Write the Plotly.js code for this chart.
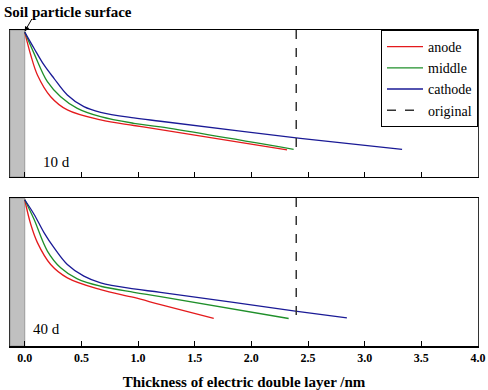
<!DOCTYPE html>
<html><head><meta charset="utf-8">
<script src="https://cdn.plot.ly/plotly-3.0.1.min.js"></script>
<style>html,body{margin:0;padding:0;background:#fff}#chart{width:488px;height:390px}</style>
</head><body><div id="chart"></div>
<script>
// Panel 1: 10 d
const x10Anode   = [0, 0.053, 0.112, 0.229, 0.376, 0.670, 0.963, 1.198, 2.315];
const y10Anode   = [98.6, 83.0, 69.4, 54.6, 45.6, 38.8, 35.0, 32.2, 18.4];
const x10Middle  = [0, 0.082, 0.200, 0.317, 0.464, 0.670, 0.963, 1.198, 2.373];
const y10Middle  = [98.6, 84.1, 64.8, 54.6, 46.7, 41.0, 36.5, 34.0, 18.8];
const x10Cathode = [0, 0.082, 0.170, 0.258, 0.376, 0.522, 0.670, 0.963, 1.198, 2.432, 3.330];
const y10Cathode = [98.6, 87.6, 76.2, 67.1, 55.8, 47.8, 44.0, 40.2, 37.9, 26.3, 18.7];
// Panel 2: 40 d
const x40Anode   = [0, 0.053, 0.112, 0.229, 0.376, 0.670, 0.963, 1.198, 1.668];
const y40Anode   = [98.9, 82.3, 69.9, 55.1, 46.1, 38.1, 32.8, 28.0, 18.6];
const x40Middle  = [0, 0.082, 0.200, 0.317, 0.464, 0.670, 0.963, 1.198, 2.329];
const y40Middle  = [98.9, 85.7, 64.2, 52.9, 45.4, 40.4, 36.3, 33.4, 18.6];
const x40Cathode = [0, 0.082, 0.170, 0.258, 0.376, 0.522, 0.670, 0.963, 1.198, 2.388, 2.843];
const y40Cathode = [98.9, 89.1, 76.7, 66.5, 55.1, 47.2, 42.7, 38.6, 36.3, 23.6, 19.0];
// Original double layer thickness
const xOriginal = [2.396, 2.396];
const y10Original = [100, 18.2];
const y40Original = [100, 19.2];
const seriesNames = ['anode', 'middle', 'cathode', 'original'];
const tickVals = [0, 0.5, 1, 1.5, 2, 2.5, 3, 3.5, 4];
const tickText = ['0.0', '0.5', '1.0', '1.5', '2.0', '2.5', '3.0', '3.5', '4.0'];
const panelLabels = ['10 d', '40 d'];

const colors = ['#e41a1c', '#1f8f2a', '#1a1a96', '#333333'];
const serif = 'Liberation Serif';

function line(x, y, i, xa, ya, show) {
  return {x: x, y: y, type: 'scatter', mode: 'lines', name: seriesNames[i],
    xaxis: xa, yaxis: ya, showlegend: show,
    line: {color: colors[i], width: i === 3 ? 1.5 : 1.3, dash: i === 3 ? 'dash' : 'solid',
      shape: i === 3 ? 'linear' : 'spline', smoothing: 1}};
}

const data = [
  line(x10Anode, y10Anode, 0, 'x2', 'y2', true),
  line(x10Middle, y10Middle, 1, 'x2', 'y2', true),
  line(x10Cathode, y10Cathode, 2, 'x2', 'y2', true),
  line(xOriginal, y10Original, 3, 'x2', 'y2', true),
  line(x40Anode, y40Anode, 0, 'x', 'y', false),
  line(x40Middle, y40Middle, 1, 'x', 'y', false),
  line(x40Cathode, y40Cathode, 2, 'x', 'y', false),
  line(xOriginal, y40Original, 3, 'x', 'y', false)
];

const xCommon = {range: [-0.13, 4.0], tickvals: tickVals, ticktext: tickText,
  ticks: 'inside', ticklen: 5, tickwidth: 1, tickcolor: '#000',
  showline: true, linecolor: '#000', linewidth: 1.5, mirror: true,
  showgrid: false, zeroline: false};
const yCommon = {range: [0, 100], showticklabels: false, ticks: '',
  showline: true, linecolor: '#333', linewidth: 1.2, mirror: true,
  showgrid: false, zeroline: false};

const layout = {
  width: 488, height: 390,
  margin: {l: 10, r: 10, t: 30, b: 44.3},
  paper_bgcolor: '#fff', plot_bgcolor: '#fff',
  font: {family: serif, color: '#000'},
  xaxis: Object.assign({}, xCommon, {anchor: 'y',
    tickfont: {family: serif, size: 12, weight: 'bold'},
    title: {text: '<b>Thickness of electric double layer /nm</b>', font: {family: serif, size: 15}, standoff: 12}}),
  xaxis2: Object.assign({}, xCommon, {anchor: 'y2', matches: 'x', showticklabels: false}),
  yaxis: Object.assign({}, yCommon, {domain: [0, 0.468], anchor: 'x'}),
  yaxis2: Object.assign({}, yCommon, {domain: [0.535, 1], anchor: 'x2'}),
  showlegend: true,
  legend: {x: 1, xanchor: 'right', y: 1, yanchor: 'top', bgcolor: '#fff',
    bordercolor: '#000', borderwidth: 1, font: {family: serif, size: 14},
    tracegroupgap: 0, itemwidth: 36},
  shapes: [
    {type: 'rect', xref: 'x', yref: 'y domain', x0: -0.13, x1: 0, y0: 0, y1: 1,
      fillcolor: '#c0c0c0', line: {color: '#9a9a9a', width: 1}, layer: 'below'},
    {type: 'rect', xref: 'x2', yref: 'y2 domain', x0: -0.13, x1: 0, y0: 0, y1: 1,
      fillcolor: '#c0c0c0', line: {color: '#9a9a9a', width: 1}, layer: 'below'}
  ],
  annotations: [
    {xref: 'paper', yref: 'paper', x: -0.018, y: 1.057, xanchor: 'left', yanchor: 'middle',
      text: '<b>Soil particle surface</b>', showarrow: false, font: {family: serif, size: 15}},
    {xref: 'x2', yref: 'y2', x: 0, y: 99, text: '', showarrow: true,
      ax: 8, ay: -14, arrowhead: 2, arrowsize: 1, arrowwidth: 1, arrowcolor: '#000'},
    {xref: 'x2', yref: 'y2', x: 0.14, y: 10, xanchor: 'left', yanchor: 'middle',
      text: panelLabels[0], showarrow: false, font: {family: serif, size: 15}},
    {xref: 'x', yref: 'y', x: 0.053, y: 11.4, xanchor: 'left', yanchor: 'middle',
      text: panelLabels[1], showarrow: false, font: {family: serif, size: 15}}
  ]
};

Plotly.newPlot('chart', data, layout, {staticPlot: true, displayModeBar: false});
</script>
</body></html>
